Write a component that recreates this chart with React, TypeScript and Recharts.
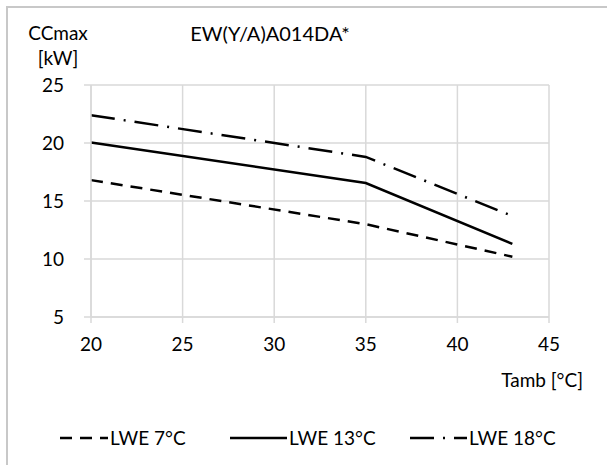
import React from 'react'
import { LineChart, Line, XAxis, YAxis, CartesianGrid } from 'recharts'

const tamb = [20, 35, 43]
const lwe7 = [16.8, 13.0, 10.2]
const lwe13 = [20.05, 16.55, 11.3]
const lwe18 = [22.4, 18.8, 13.7]
const xTicks = [20, 25, 30, 35, 40, 45]
const yTicks = [5, 10, 15, 20, 25]

const data = tamb.map((t, i) => ({ t, a: lwe7[i], b: lwe13[i], c: lwe18[i] }))

const FONT = 'Lato, Carlito, Calibri, sans-serif'
const GRID = '#d9d9d9'
const FS = 19

const series = [
  { key: 'a', name: 'LWE 7°C', dash: '12 8' },
  { key: 'b', name: 'LWE 13°C', dash: undefined },
  { key: 'c', name: 'LWE 18°C', dash: '24 9 2 9' },
]

// legend drawn by hand so the order stays 7 / 13 / 18
function LegendRow() {
  const xs = [60, 230, 410]
  const ws = [48, 57, 57]
  return (
    <svg width={607} height={30} style={{ position: 'absolute', left: 0, top: 423 }}>
      {series.map((s, i) => (
        <g key={s.key}>
          <line
            x1={xs[i]}
            x2={xs[i] + ws[i]}
            y1={15}
            y2={15}
            stroke="#000"
            strokeWidth={2.5}
            strokeDasharray={s.dash}
          />
          <text x={xs[i] + ws[i] + 2} y={15} dy="0.35em" fontSize={FS} fontFamily={FONT} fill="#000">
            {s.name}
          </text>
        </g>
      ))}
    </svg>
  )
}

export default function App() {
  return (
    <div style={{ position: 'fixed', left: 0, top: 0, width: 607, height: 465, overflow: 'hidden', background: '#fff' }}>
      <div
        style={{
          position: 'absolute',
          left: 6,
          top: 6,
          width: 700,
          height: 600,
          borderLeft: '2px solid #c8c8c8',
          borderTop: '2px solid #c8c8c8',
          boxSizing: 'border-box',
        }}
      />
      <LineChart
        width={607}
        height={465}
        data={data}
        margin={{ top: 85, right: 58, bottom: 118, left: 0 }}
        style={{ position: 'absolute', left: 0, top: 0, fontFamily: FONT }}
      >
        <CartesianGrid stroke={GRID} strokeWidth={1.5} />
        <XAxis
          dataKey="t"
          type="number"
          domain={[20, 45]}
          ticks={xTicks}
          height={30}
          stroke={GRID}
          strokeWidth={1.5}
          tickSize={6}
          tickMargin={15}
          tick={{ fill: '#000', fontSize: FS, fontFamily: FONT }}
        />
        <YAxis
          type="number"
          domain={[5, 25]}
          ticks={yTicks}
          width={91}
          stroke={GRID}
          strokeWidth={1.5}
          tickSize={7}
          tickMargin={20}
          tick={{ fill: '#000', fontSize: FS, fontFamily: FONT }}
        />
        {series.map((s) => (
          <Line
            key={s.key}
            dataKey={s.key}
            name={s.name}
            stroke="#000"
            strokeWidth={2.5}
            strokeDasharray={s.dash}
            dot={false}
            isAnimationActive={false}
          />
        ))}
      </LineChart>
      <LegendRow />
      <div style={{ position: 'absolute', left: 23, top: 20, width: 70, textAlign: 'center', fontFamily: FONT, fontSize: FS, lineHeight: '25px' }}>
        CCmax
        <br />
        [kW]
      </div>
      <div style={{ position: 'absolute', left: 150, top: 21, width: 240, textAlign: 'center', fontFamily: FONT, fontSize: 20 }}>
        EW(Y/A)A014DA*
      </div>
      <div style={{ position: 'absolute', right: 24, top: 368, fontFamily: FONT, fontSize: FS }}>
        Tamb [°C]
      </div>
    </div>
  )
}
